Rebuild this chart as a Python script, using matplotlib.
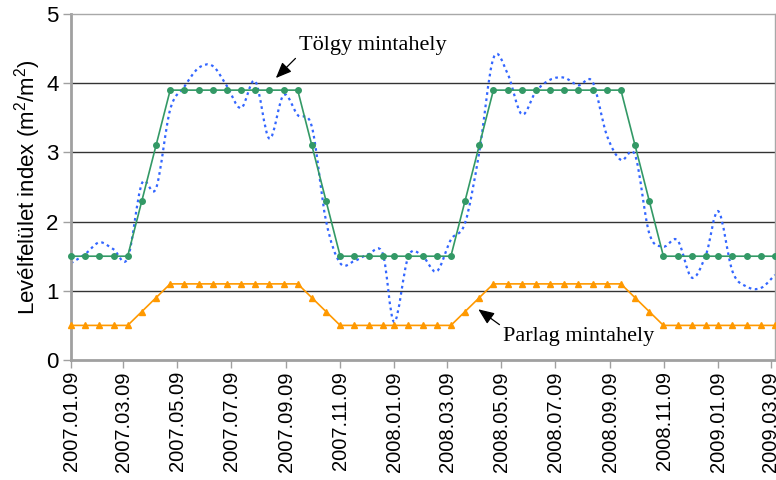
# levélfelület index – Tölgy és Parlag mintahely

import matplotlib
matplotlib.use("Agg")
import matplotlib.pyplot as plt
import matplotlib.dates as mdates
from matplotlib.path import Path
from matplotlib.patches import PathPatch
from datetime import datetime

plt.rcParams['font.family'] = ['Liberation Sans', 'DejaVu Sans']
plt.rcParams['mathtext.default'] = 'regular'

# 16 napos időpontok
datumok = [
    "2007.01.09", "2007.01.25", "2007.02.10", "2007.02.26", "2007.03.14", "2007.03.30",
    "2007.04.15", "2007.05.01", "2007.05.17", "2007.06.02", "2007.06.18", "2007.07.04",
    "2007.07.20", "2007.08.05", "2007.08.21", "2007.09.06", "2007.09.22", "2007.10.08",
    "2007.10.24", "2007.11.09", "2007.11.25", "2007.12.11", "2007.12.27",
    "2008.01.09", "2008.01.25", "2008.02.10", "2008.02.26", "2008.03.13", "2008.03.29",
    "2008.04.14", "2008.04.30", "2008.05.16", "2008.06.01", "2008.06.17", "2008.07.03",
    "2008.07.19", "2008.08.04", "2008.08.20", "2008.09.05", "2008.09.21", "2008.10.07",
    "2008.10.23", "2008.11.08", "2008.11.24", "2008.12.10", "2008.12.26",
    "2009.01.09", "2009.01.25", "2009.02.10", "2009.02.26", "2009.03.14",
]

# modell - tölgy (zöld)
tolgy = [
    1.5, 1.5, 1.5, 1.5, 1.5, 2.3, 3.1, 3.9, 3.9, 3.9, 3.9, 3.9, 3.9, 3.9, 3.9, 3.9, 3.9,
    3.1, 2.3, 1.5, 1.5, 1.5, 1.5,
    1.5, 1.5, 1.5, 1.5, 1.5, 2.3, 3.1, 3.9, 3.9, 3.9, 3.9, 3.9, 3.9, 3.9, 3.9, 3.9, 3.9,
    3.1, 2.3, 1.5, 1.5, 1.5, 1.5,
    1.5, 1.5, 1.5, 1.5, 1.5,
]

# modell - parlag (narancs)
parlag = [
    0.5, 0.5, 0.5, 0.5, 0.5, 0.7, 0.9, 1.1, 1.1, 1.1, 1.1, 1.1, 1.1, 1.1, 1.1, 1.1, 1.1,
    0.9, 0.7, 0.5, 0.5, 0.5, 0.5,
    0.5, 0.5, 0.5, 0.5, 0.5, 0.7, 0.9, 1.1, 1.1, 1.1, 1.1, 1.1, 1.1, 1.1, 1.1, 1.1, 1.1,
    0.9, 0.7, 0.5, 0.5, 0.5, 0.5,
    0.5, 0.5, 0.5, 0.5, 0.5,
]

# mért (kék pontozott)
mert = [
    1.40, 1.53, 1.70, 1.60, 1.47, 2.55, 2.48, 3.62, 3.95, 4.22, 4.25, 3.96, 3.64, 4.03,
    3.20, 3.83, 3.54, 3.37, 2.01, 1.40, 1.43, 1.53, 1.54,
    0.55, 1.50, 1.50, 1.28, 1.74, 1.98, 3.00, 4.36, 4.14, 3.55, 3.88, 4.05, 4.08, 3.97,
    4.02, 3.25, 2.89, 2.96, 1.83, 1.64, 1.73, 1.19, 1.52,
    2.15, 1.28, 1.06, 1.04, 1.23,
]

dates = [datetime.strptime(d, "%Y.%m.%d") for d in datumok]

fig = plt.figure(figsize=(7.76, 4.8), dpi=100)
ax = fig.add_axes([0.0915, 0.25, 0.9072, 0.7208])

# kék: Excel-szerű simított vonal (Bezier szakaszok)
xs = mdates.date2num(dates)
ys = mert
verts = [(xs[0], ys[0])]
codes = [Path.MOVETO]
n = len(xs)
for i in range(n - 1):
    p0 = (xs[max(i - 1, 0)], ys[max(i - 1, 0)])
    p1 = (xs[i], ys[i])
    p2 = (xs[i + 1], ys[i + 1])
    p3 = (xs[min(i + 2, n - 1)], ys[min(i + 2, n - 1)])
    c1 = (p1[0] + (p2[0] - p0[0]) / 6, p1[1] + (p2[1] - p0[1]) / 6)
    c2 = (p2[0] - (p3[0] - p1[0]) / 6, p2[1] - (p3[1] - p1[1]) / 6)
    verts += [c1, c2, p2]
    codes += [Path.CURVE4] * 3
ax.add_patch(PathPatch(Path(verts, codes), fill=False, edgecolor="#3366FF",
                       lw=1.6, linestyle=(0, (1.2, 1.6)), zorder=2))

ax.plot(dates, tolgy, "-o", color="#339966", lw=1.2, ms=4, clip_on=False, zorder=3)
ax.plot(dates, parlag, "-^", color="#FF9900", lw=1.2, ms=4.5, clip_on=False, zorder=3)

ax.set_xlim(dates[0], dates[-1])
ax.set_ylim(0, 5)
ax.set_yticks([0, 1, 2, 3, 4, 5])
for v in [1, 2, 3, 4]:
    ax.axhline(v, color="#333333", lw=1, zorder=1)

ax.xaxis.set_major_locator(mdates.MonthLocator(bymonth=[1, 3, 5, 7, 9, 11], bymonthday=9))
ax.xaxis.set_major_formatter(mdates.DateFormatter("%Y.%m.%d"))
plt.setp(ax.get_xticklabels(), rotation=90)
ax.tick_params(axis="both", labelsize=16, color="#A0A0A0", length=6, width=1, pad=3)
ax.tick_params(axis="x", labelsize=14.5, pad=2)

for s in ["left", "bottom"]:
    ax.spines[s].set_color("#A0A0A0")
    ax.spines[s].set_linewidth(2)
for s in ["top", "right"]:
    ax.spines[s].set_color("#A8A8A8")
    ax.spines[s].set_linewidth(1)

ax.set_ylabel("Levélfelület index (m$^2$/m$^2$)", fontsize=16)
ax.yaxis.set_label_coords(-0.04, 0.5)

arrow = dict(arrowstyle="-|>,head_length=0.6,head_width=0.25", color="black", lw=0.9,
             shrinkA=1, shrinkB=0)
ax.annotate("Tölgy mintahely", xy=(0.291, 0.815), xycoords="axes fraction",
            xytext=(0.429, 0.910), textcoords="axes fraction", ha="center", va="center",
            fontsize=16, family="Liberation Serif",
            arrowprops=dict(arrow, relpos=(0.0, 0.0)))
ax.annotate("Parlag mintahely", xy=(0.5786, 0.1465), xycoords="axes fraction",
            xytext=(0.7216, 0.0665), textcoords="axes fraction", ha="center", va="center",
            fontsize=16, family="Liberation Serif",
            arrowprops=dict(arrow, relpos=(0.0, 1.0)))

fig.savefig("out.png", dpi=100)
